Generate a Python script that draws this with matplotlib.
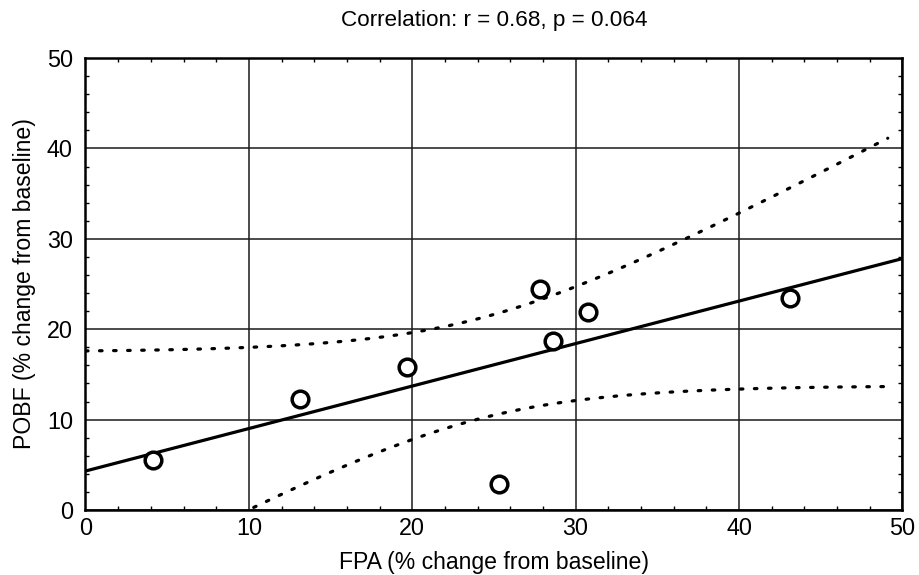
import numpy as np
import matplotlib
matplotlib.use("Agg")
import matplotlib.pyplot as plt
from matplotlib.ticker import MultipleLocator

plt.rcParams['font.family'] = ['Liberation Sans', 'DejaVu Sans']

# Data
fpa = [4.15, 13.1, 19.7, 25.3, 27.8, 28.6, 30.75, 43.1]
pobf = [5.5, 12.3, 15.8, 2.9, 24.4, 18.7, 21.9, 23.5]
x_ticks = [0, 10, 20, 30, 40, 50]
y_ticks = [0, 10, 20, 30, 40, 50]
title = "Correlation: r = 0.68, p = 0.064"
xlabel = "FPA (% change from baseline)"
ylabel = "POBF (% change from baseline)"
t_crit = 2.447  # t(0.975, df=6)

x = np.array(fpa)
y = np.array(pobf)
n = len(x)
xm, ym = x.mean(), y.mean()
sxx = np.sum((x - xm) ** 2)
sxy = np.sum((x - xm) * (y - ym))
slope = sxy / sxx
intercept = ym - slope * xm
resid = y - (intercept + slope * x)
s = np.sqrt(np.sum(resid ** 2) / (n - 2))

xl = np.linspace(0, 50, 200)
yl = intercept + slope * xl
xc = np.linspace(0, 49.1, 200)
hw = t_crit * s * np.sqrt(1.0 / n + (xc - xm) ** 2 / sxx)
yc = intercept + slope * xc

fig = plt.figure(figsize=(9.19, 5.75), dpi=100)
ax = fig.add_axes([0.093, 0.113, 0.889, 0.786])

ax.set_xlim(0, 50)
ax.set_ylim(0, 50)
ax.set_xticks(x_ticks)
ax.set_yticks(y_ticks)
ax.xaxis.set_minor_locator(MultipleLocator(2))
ax.yaxis.set_minor_locator(MultipleLocator(2))
ax.grid(True, which='major', color='#1a1a1a', linewidth=1.1)
ax.set_axisbelow(True)

ax.plot(xl, yl, color='black', linewidth=2.3, zorder=3)
ax.plot(xc, yc + hw, color='black', linewidth=2.3, linestyle=(0, (0.8, 3.6)),
        dash_capstyle='round', zorder=3)
ax.plot(xc, yc - hw, color='black', linewidth=2.3, linestyle=(0, (0.8, 3.6)),
        dash_capstyle='round', zorder=3)
ax.plot(x, y, 'o', markersize=12, markerfacecolor='white',
        markeredgecolor='black', markeredgewidth=2.5, zorder=4, clip_on=False)

for sp in ax.spines.values():
    sp.set_linewidth(1.8)
    sp.set_color('black')

ax.tick_params(which='major', direction='in', length=0, labelsize=16.8,
               top=True, right=True)
ax.tick_params(axis='x', which='major', pad=5)
ax.tick_params(axis='y', which='major', pad=9)
ax.tick_params(which='minor', direction='in', length=3, width=1.0,
               top=True, right=True)

ax.set_title(title, fontsize=16.2, pad=23)
ax.set_xlabel(xlabel, fontsize=16.6, labelpad=8)
ax.set_ylabel(ylabel, fontsize=16.6, labelpad=8)

fig.savefig("out.png", dpi=100, facecolor='white')
